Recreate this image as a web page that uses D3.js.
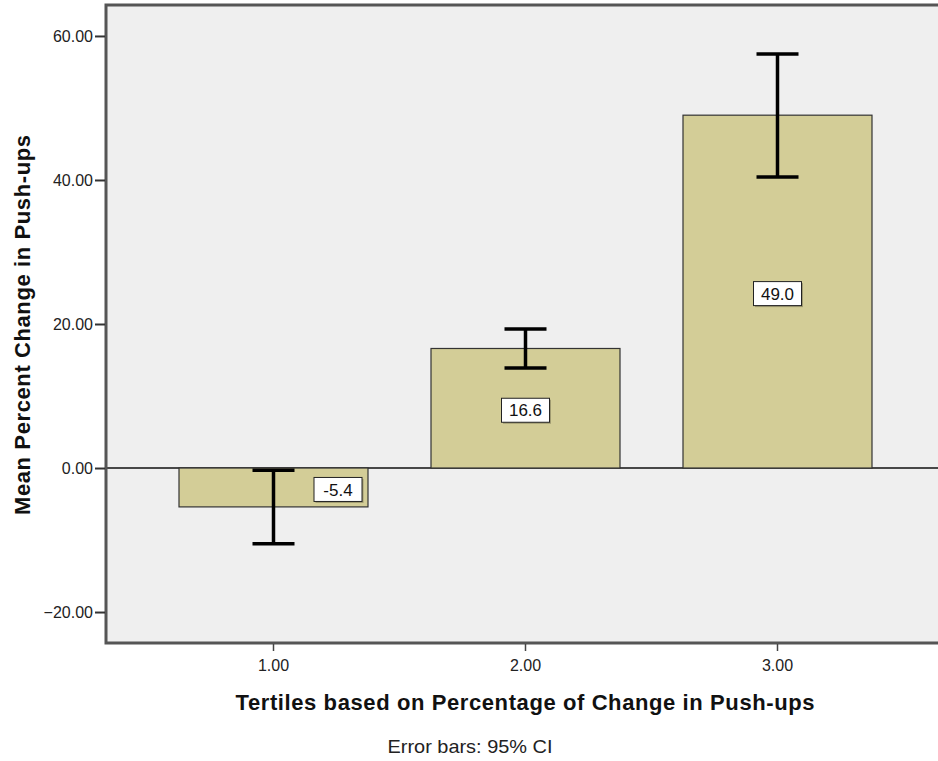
<!DOCTYPE html>
<html>
<head>
<meta charset="utf-8">
<script src="https://cdn.jsdelivr.net/npm/d3@7"></script>
<style>
  body { margin: 0; background: #fff; }
  svg { display: block; }
</style>
</head>
<body>
<div id="chart"></div>
<script>
// chart data
const categories = ['1.00', '2.00', '3.00'];
const means = [-5.4, 16.6, 49.0];
const ciLower = [-10.5, 13.9, 40.4];
const ciUpper = [-0.3, 19.3, 57.5];
const yTicks = [-20, 0, 20, 40, 60];

const W = 938, H = 761;
const plot = { left: 106, top: 5, right: 938, bottom: 643 };
const FONT = "'Liberation Sans', Arial, sans-serif";

const svg = d3.select('#chart').append('svg')
    .attr('width', W).attr('height', H);

const x = d3.scaleBand().domain(categories)
    .range([147.5, 903.5]).paddingInner(0.25).paddingOuter(0.125);
const y = d3.scaleLinear().domain([-24.3, 64.3]).range([plot.bottom, plot.top]);

// plot background
svg.append('rect')
    .attr('x', plot.left).attr('y', plot.top)
    .attr('width', plot.right - plot.left).attr('height', plot.bottom - plot.top)
    .attr('fill', '#efefef');

// zero line
svg.append('line')
    .attr('x1', plot.left).attr('x2', plot.right)
    .attr('y1', y(0)).attr('y2', y(0))
    .attr('stroke', '#111').attr('stroke-width', 1.5);

// bars
const data = categories.map((c, i) => ({ c, m: means[i], lo: ciLower[i], hi: ciUpper[i] }));

svg.selectAll('.bar').data(data).join('rect')
    .attr('class', 'bar')
    .attr('x', d => x(d.c))
    .attr('width', x.bandwidth())
    .attr('y', d => y(Math.max(0, d.m)))
    .attr('height', d => Math.abs(y(d.m) - y(0)))
    .attr('fill', '#d3cd97')
    .attr('stroke', '#333').attr('stroke-width', 1.2);

// error bars
const cap = 21;
const eb = svg.selectAll('.eb').data(data).join('g').attr('class', 'eb')
    .attr('stroke', '#000').attr('stroke-width', 3.5);
eb.append('line')
    .attr('x1', d => x(d.c) + x.bandwidth() / 2).attr('x2', d => x(d.c) + x.bandwidth() / 2)
    .attr('y1', d => y(d.hi)).attr('y2', d => y(d.lo));
eb.append('line')
    .attr('x1', d => x(d.c) + x.bandwidth() / 2 - cap).attr('x2', d => x(d.c) + x.bandwidth() / 2 + cap)
    .attr('y1', d => y(d.hi)).attr('y2', d => y(d.hi));
eb.append('line')
    .attr('x1', d => x(d.c) + x.bandwidth() / 2 - cap).attr('x2', d => x(d.c) + x.bandwidth() / 2 + cap)
    .attr('y1', d => y(d.lo)).attr('y2', d => y(d.lo));

// value labels (negative bar label pushed right so it clears the error bar)
const boxW = 48, boxH = 24;
const lab = svg.selectAll('.lab').data(data).join('g').attr('class', 'lab')
    .attr('transform', d => {
        const cx = d.m < 0 ? x(d.c) + x.bandwidth() - 6 - boxW / 2 : x(d.c) + x.bandwidth() / 2;
        return `translate(${cx},${y(d.m / 2) + 2})`;
    });
lab.append('rect')
    .attr('x', -boxW / 2 + 1.5).attr('y', -boxH / 2 + 1.5)
    .attr('width', boxW).attr('height', boxH).attr('fill', '#6e6a4c').attr('opacity', 0.5);
lab.append('rect')
    .attr('x', -boxW / 2).attr('y', -boxH / 2)
    .attr('width', boxW).attr('height', boxH)
    .attr('fill', '#fff').attr('stroke', '#222').attr('stroke-width', 1);
lab.append('text')
    .attr('text-anchor', 'middle').attr('dy', '0.36em')
    .attr('font-family', FONT).attr('font-size', 17)
    .attr('fill', '#111')
    .text(d => d.m.toFixed(1));

// frame: left, top, bottom
svg.append('path')
    .attr('d', `M${plot.right},${plot.top}H${plot.left}V${plot.bottom}H${plot.right}`)
    .attr('stroke', '#555').attr('stroke-width', 3).attr('fill', 'none');

// y axis
const yAxis = svg.append('g')
    .attr('transform', `translate(${plot.left - 1},0)`)
    .call(d3.axisLeft(y).tickValues(yTicks).tickFormat(d3.format('.2f')).tickSize(10).tickPadding(2));
yAxis.select('.domain').remove();
yAxis.selectAll('.tick line').attr('stroke', '#333').attr('stroke-width', 2);
yAxis.selectAll('.tick text')
    .attr('font-family', FONT).attr('font-size', 16)
    .attr('fill', '#222');

// x axis
const xAxis = svg.append('g')
    .attr('transform', `translate(0,${plot.bottom + 1})`)
    .call(d3.axisBottom(x).tickSize(7).tickPadding(9));
xAxis.select('.domain').remove();
xAxis.selectAll('.tick line').attr('stroke', '#444').attr('stroke-width', 1.5);
xAxis.selectAll('.tick text')
    .attr('font-family', FONT).attr('font-size', 16)
    .attr('fill', '#222');

// titles
svg.append('text')
    .attr('x', 525).attr('y', 710)
    .attr('text-anchor', 'middle')
    .attr('font-family', FONT).attr('font-size', 22).attr('font-weight', 700)
    .attr('textLength', 579).attr('lengthAdjust', 'spacing')
    .attr('fill', '#111')
    .text('Tertiles based on Percentage of Change in Push-ups');

svg.append('text')
    .attr('transform', 'translate(30,325) rotate(-90)')
    .attr('text-anchor', 'middle')
    .attr('font-family', FONT).attr('font-size', 22).attr('font-weight', 700)
    .attr('textLength', 380).attr('lengthAdjust', 'spacing')
    .attr('fill', '#111')
    .text('Mean Percent Change in Push-ups');

svg.append('text')
    .attr('x', 470).attr('y', 753)
    .attr('text-anchor', 'middle')
    .attr('font-family', FONT).attr('font-size', 19)
    .attr('textLength', 165).attr('lengthAdjust', 'spacingAndGlyphs')
    .attr('fill', '#222')
    .text('Error bars: 95% CI');
</script>
</body>
</html>
